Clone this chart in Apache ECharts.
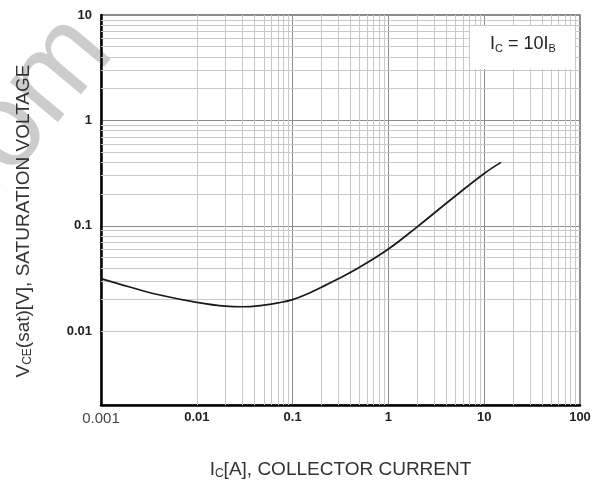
<!DOCTYPE html>
<html><head><meta charset="utf-8">
<script src="https://cdn.jsdelivr.net/npm/echarts@6/dist/echarts.min.js"></script>
<style>html,body{margin:0;padding:0;background:#fff}#c{width:603px;height:487px}</style>
</head><body><div id="c"></div>
<script>
// Collector current Ic [A] and saturation voltage VCE(sat) [V]
const currentA = [0.001, 0.002, 0.004, 0.01, 0.02, 0.03, 0.05, 0.07, 0.1, 0.15, 0.2, 0.3, 0.5, 1, 2, 4.4, 10, 15];
const vceSat   = [0.0316, 0.0263, 0.0222, 0.0188, 0.0173, 0.0171, 0.0177, 0.0186, 0.0200, 0.0231, 0.0262, 0.0315, 0.0405, 0.0603, 0.098, 0.175, 0.314, 0.40];

const xTickValues = [0.001, 0.01, 0.1, 1, 10, 100];
const xTickLabels = ['0.001', '0.01', '0.1', '1', '10', '100'];
const yTickValues = [0.01, 0.1, 1, 10];
const yTickLabels = ['0.01', '0.1', '1', '10'];

const xMin = 0.001, xMax = 100;
const yMin = 0.002, yMax = 10;

// minor log grid: 2..9 within each decade
const gridMultipliers = [2, 3, 4, 5, 6, 7, 8, 9];
const xDecadeStarts = [0.001, 0.01, 0.1, 1, 10];
const yDecadeStarts = [0.001, 0.01, 0.1, 1];

const FONT = "'Liberation Sans', Arial, sans-serif";

function minorValues(decades, lo, hi) {
  const out = [];
  decades.forEach(d => gridMultipliers.forEach(m => {
    const v = +(d * m).toPrecision(6);
    if (v > lo * 1.0001 && v < hi * 0.9999) out.push(v);
  }));
  return out;
}
function labelFor(values, labels, v) {
  for (let i = 0; i < values.length; i++) {
    if (Math.abs(Math.log10(v) - Math.log10(values[i])) < 1e-6) return labels[i];
  }
  return null;
}

const xMinor = minorValues(xDecadeStarts, xMin, xMax);
const yMinor = minorValues(yDecadeStarts, yMin, yMax);

const chart = echarts.init(document.getElementById('c'), null, {renderer: 'canvas'});
chart.setOption({
  animation: false,
  backgroundColor: '#ffffff',
  grid: {left: 101, top: 15, width: 479, height: 390, show: true, borderColor: '#666', borderWidth: 1.5, backgroundColor: 'transparent'},
  xAxis: {
    type: 'log', logBase: 10, min: xMin, max: xMax,
    name: 'I{s|C}[A], COLLECTOR CURRENT',
    nameLocation: 'middle', nameGap: 55,
    nameTextStyle: {fontFamily: FONT, fontSize: 19, color: '#333',
      rich: {s: {fontFamily: FONT, fontSize: 12, color: '#333', padding: [8, 0, 0, 0]}}},
    axisLine: {show: true, lineStyle: {color: '#000', width: 2.5}},
    axisTick: {show: false},
    splitLine: {show: true, lineStyle: {color: '#8c8c8c', width: 1}},
    axisLabel: {
      margin: 6,
      formatter: v => {
        const l = labelFor(xTickValues, xTickLabels, v);
        if (l === null) return '';
        return l === '0.001' ? '{a|' + l + '}' : '{b|' + l + '}';
      },
      rich: {
        a: {fontFamily: FONT, fontSize: 15, color: '#444'},
        b: {fontFamily: FONT, fontSize: 13, fontWeight: 'bold', color: '#222'}
      }
    }
  },
  yAxis: {
    type: 'log', logBase: 10, min: yMin, max: yMax,
    name: 'V{s|CE}(sat)[V], SATURATION VOLTAGE',
    nameLocation: 'middle', nameGap: 67, nameRotate: 90,
    nameTextStyle: {fontFamily: FONT, fontSize: 19, color: '#333', padding: [0, 22, 0, 0],
      rich: {s: {fontFamily: FONT, fontSize: 12, color: '#333', padding: [8, 0, 0, 0]}}},
    axisLine: {show: true, lineStyle: {color: '#000', width: 2.5}},
    axisTick: {show: false},
    splitLine: {show: true, lineStyle: {color: '#8c8c8c', width: 1}},
    axisLabel: {
      margin: 9,
      fontFamily: FONT, fontSize: 13, fontWeight: 'bold', color: '#222',
      formatter: v => {
        const l = labelFor(yTickValues, yTickLabels, v);
        return l === null ? '' : l;
      }
    }
  },
  graphic: [
    {
      type: 'text', z: 0, silent: true,
      x: 136, y: 70, rotation: 50 * Math.PI / 180,
      style: {text: 'com', fontFamily: FONT, fontSize: 118, fill: '#cccccc', align: 'right', verticalAlign: 'bottom'}
    },
    {
      type: 'rect', z: 10, silent: true,
      shape: {x: 470, y: 26, width: 105, height: 43},
      style: {fill: '#ffffff'}
    },
    {
      type: 'text', z: 11, silent: true,
      x: 523, y: 44,
      style: {
        text: 'I{s|C} = 10I{s|B}',
        fontFamily: FONT, fontSize: 18, fill: '#222', align: 'center', verticalAlign: 'middle',
        rich: {s: {fontFamily: FONT, fontSize: 11, fill: '#222', padding: [9, 0, 0, 0]}}
      }
    }
  ],
  series: [
    {
      type: 'line', silent: true, data: [], symbol: 'none', z: 1,
      markLine: {
        silent: true, symbol: 'none', label: {show: false},
        lineStyle: {color: '#c8c8c8', width: 1, type: 'solid'},
        emphasis: {disabled: true},
        animation: false,
        data: xMinor.map(v => ({xAxis: v})).concat(yMinor.map(v => ({yAxis: v})))
      }
    },
    {
      type: 'line', silent: true, z: 5, smooth: 0.4, symbol: 'none',
      data: currentA.map((x, i) => [x, vceSat[i]]),
      lineStyle: {color: '#1a1a1a', width: 1.7}
    }
  ]
});
</script>
</body></html>
